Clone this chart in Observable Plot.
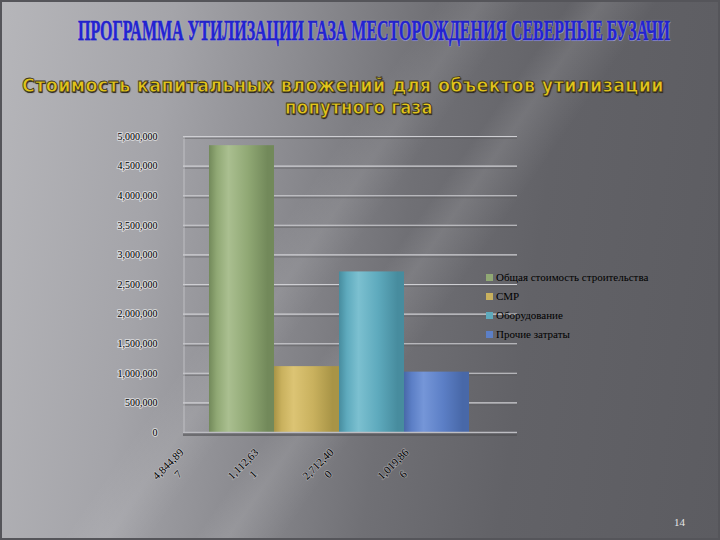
<!DOCTYPE html>
<html><head><meta charset="utf-8">
<script src="https://cdn.jsdelivr.net/npm/d3@7"></script>
<script src="https://cdn.jsdelivr.net/npm/@observablehq/plot@0.6"></script>
<style>
html,body{margin:0;padding:0;}
body{width:720px;height:540px;position:relative;overflow:hidden;
 background:
  linear-gradient(125deg, rgba(255,255,255,0) 0%, rgba(255,255,255,0) 52%, rgba(255,255,255,0.10) 55%, rgba(255,255,255,0) 60%, rgba(255,255,255,0) 100%),
  linear-gradient(125deg, rgba(255,255,255,0) 0%, rgba(255,255,255,0) 40%, rgba(255,255,255,0.08) 44%, rgba(255,255,255,0) 48%, rgba(255,255,255,0) 100%),
  linear-gradient(98deg, #b6b6ba 0%, #a4a4a9 22%, #8c8c91 38%, #707075 55%, #626267 72%, #5c5c61 100%);
}
.frame{position:absolute;left:0;top:0;width:716px;height:536px;border:2px solid #55555a;pointer-events:none;}
.t{position:absolute;white-space:nowrap;transform-origin:0 0;}
#title{font-family:"Liberation Sans Narrow","Liberation Serif",serif;font-weight:bold;font-size:29px;color:#2424d6;
 text-shadow:0 0 2px #c8c8f0, 1px 1px 0 #9090c0;-webkit-text-stroke:0.5px #1818b0;}
.sub{font-family:"DejaVu Sans",sans-serif;font-weight:bold;font-size:20px;color:#e2c41a;
 -webkit-text-stroke:0.8px #3a3420;text-shadow:1px 1px 1px #222;letter-spacing:0.5px;}
#plot,#labels{position:absolute;left:0;top:120px;width:720px;height:400px;}
#legend{position:absolute;left:486px;top:269px;font-family:"Liberation Serif",serif;font-size:11px;color:#000;}
#legend div{height:19px;line-height:16px;white-space:nowrap;}
#legend span.sw{display:inline-block;width:7px;height:7px;margin-right:3px;vertical-align:0px;}
#page{position:absolute;left:674px;top:516px;font-family:"Liberation Serif",serif;font-size:11px;color:#e6e6e6;}
svg text{font-family:"Liberation Serif",serif;}
g[aria-label="y-axis tick label"] text{paint-order:stroke;stroke:rgba(255,255,255,0.55);stroke-width:2px;}
</style></head>
<body>
<div class="frame"></div>
<div id="title" class="t">ПРОГРАММА  УТИЛИЗАЦИИ ГАЗА МЕСТОРОЖДЕНИЯ СЕВЕРНЫЕ БУЗАЧИ</div>
<div id="sub1" class="t sub">Стоимость капитальных вложений для объектов утилизации</div>
<div id="sub2" class="t sub">попутного газа</div>
<div id="plot"></div>
<div id="labels"></div>
<div id="legend"></div>
<div id="page">14</div>
<script>
// ---- data ----
const series = ["Общая стоимость строительства", "СМР", "Оборудование", "Прочие затраты"];
const values = [4844897, 1112631, 2712400, 1019866];
const colors = ["#90a874", "#c9b15e", "#5eaabd", "#5c7fc6"];
const lightColors = ["#aabf90", "#dcc474", "#7cc0d0", "#7596d8"];
const darkColors = ["#72895a", "#a89446", "#478c9e", "#4868a8"];
const yTicks = [0, 500000, 1000000, 1500000, 2000000, 2500000, 3000000, 3500000, 4000000, 4500000, 5000000];
const yMax = 5000000;

const rows = series.map((s, i) => ({series: s, value: values[i], i}));
const fmt = d3.format(",");
const wrapLabel = v => { const s = fmt(v); return s.slice(0, 8) + "\n" + s.slice(8); };

// ---- titles: fit widths ----
function fit(id, left, top, width) {
  const el = document.getElementById(id);
  const w = el.getBoundingClientRect().width;
  el.style.left = left + "px"; el.style.top = top + "px";
  el.style.transform = `scaleX(${width / w})`;
}
fit("title", 78, 14, 592);
fit("sub1", 22, 73, 642);
fit("sub2", 285, 95, 148);

// ---- main chart ----
const W = 720, H = 400;
const barMarks = rows.map(r => Plot.barY([r], {x: "series", y: "value", fill: `url(#grad${r.i})`, inset: 0}));

const chart = Plot.plot({
  width: W, height: H,
  marginTop: 16, marginBottom: 88, marginLeft: 183, marginRight: 203,
  x: {domain: series, range: [208, 469], padding: 0, axis: null},
  y: {domain: [0, yMax], ticks: yTicks, tickFormat: d => fmt(d), tickSize: 0, tickPadding: 26, label: null},
  marks: [
    Plot.ruleY(yTicks.filter(d => d > 0), {stroke: "#5a5a5e", strokeOpacity: 0.45, strokeWidth: 1.2, dy: 2}),
    Plot.ruleY(yTicks.filter(d => d > 0), {stroke: "#cfcfd3", strokeWidth: 1.1}),
    Plot.ruleX([series[0]], {x: d => d, y1: 0, y2: yMax, dx: -58, stroke: "#c8c8cc", strokeOpacity: 0.8}),
    ...barMarks,
    Plot.ruleY([0], {stroke: "#4e4e52", strokeWidth: 3, dy: 2, strokeOpacity: 0.6}),
    Plot.ruleY([0], {stroke: "#bdbdc2", strokeWidth: 1.5})
  ]
});
// gradient defs for cylinder-like bars
const svgNS = "http://www.w3.org/2000/svg";
const defs = document.createElementNS(svgNS, "defs");
colors.forEach((c, i) => {
  const g = document.createElementNS(svgNS, "linearGradient");
  g.setAttribute("id", "grad" + i);
  g.setAttribute("x1", "0"); g.setAttribute("x2", "1"); g.setAttribute("y1", "0"); g.setAttribute("y2", "0");
  [[0, darkColors[i]], [0.12, c], [0.3, lightColors[i]], [0.6, c], [0.9, darkColors[i]], [1, darkColors[i]]].forEach(([o, col]) => {
    const s = document.createElementNS(svgNS, "stop");
    s.setAttribute("offset", o); s.setAttribute("stop-color", col);
    g.appendChild(s);
  });
  defs.appendChild(g);
});
chart.insertBefore(defs, chart.firstChild);
chart.style.background = "transparent";
chart.style.overflow = "visible";
document.getElementById("plot").appendChild(chart);

// ---- rotated value labels (own point scale, offset as in the original) ----
const labels = Plot.plot({
  width: W, height: H,
  marginTop: 16, marginBottom: 88, marginLeft: 135, marginRight: 285,
  x: {type: "point", domain: series, range: [172, 397], padding: 0, axis: null},
  y: {domain: [0, yMax], axis: null},
  marks: [
    Plot.text(rows, {x: "series", y: 0, text: d => wrapLabel(d.value), rotate: -45, dy: 36,
      textAnchor: "middle", lineAnchor: "middle", lineHeight: 1.3, fontSize: 11, fill: "#000",
      stroke: "rgba(255,255,255,0.3)", strokeWidth: 1.5})
  ]
});
labels.style.background = "transparent";
labels.style.overflow = "visible";
document.getElementById("labels").appendChild(labels);

// ---- legend ----
const lg = document.getElementById("legend");
series.forEach((s, i) => {
  const d = document.createElement("div");
  d.innerHTML = `<span class="sw" style="background:${colors[i]}"></span>${s}`;
  lg.appendChild(d);
});
</script>
</body></html>
